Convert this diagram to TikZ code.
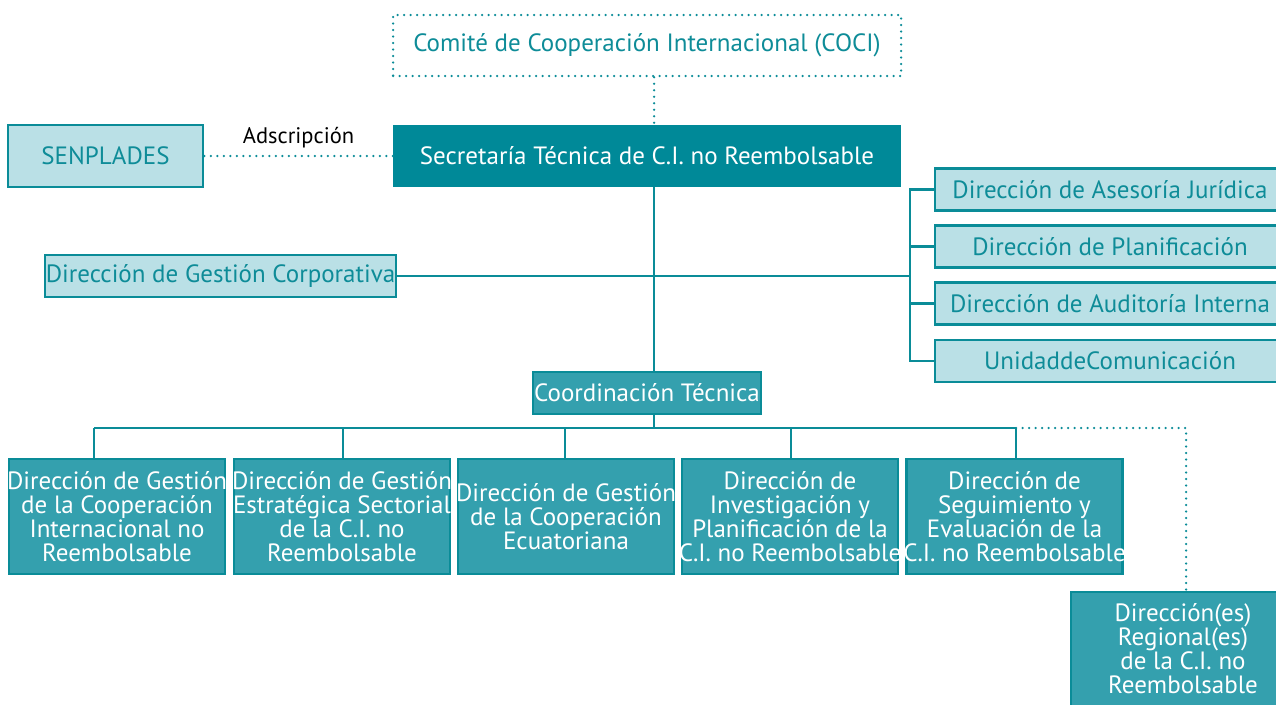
\documentclass[tikz,border=0pt]{standalone}
\usepackage{fontspec}
\setmainfont{PT Sans}
\definecolor{darkteal}{RGB}{0,137,152}
\definecolor{lightfill}{RGB}{186,224,230}
\definecolor{midfill}{RGB}{52,160,174}
\definecolor{bordert}{RGB}{10,140,152}
\definecolor{tealtext}{RGB}{14,140,152}
\begin{document}
\begin{tikzpicture}[x=1pt,y=-1pt,
  basefont/.style={font=\fontsize{25}{24}\selectfont, inner sep=0pt, align=center},
  lightbox/.style={basefont, fill=lightfill, draw=bordert, line width=2.5pt, text=tealtext},
  midbox/.style={basefont, fill=midfill, draw=bordert, line width=2.5pt, text=white},
  midtext/.style={basefont, text=white},
  darkbox/.style={basefont, fill=darkteal, draw=none, text=white},
  dotbox/.style={basefont, draw=bordert, line width=2.5pt, dash pattern=on 0pt off 6.5pt, line cap=round, text=tealtext},
  dotline/.style={draw=bordert, line width=2.5pt, dash pattern=on 0pt off 6.5pt, line cap=round},
  conn/.style={draw=bordert, line width=2.5pt}]
\clip (0,0) rectangle (1276,704);
\fill[white] (0,0) rectangle (1276,704);
\coordinate (mx) at (654,0);
% top
\node[dotbox, minimum width=508, minimum height=61] (coci) at (647,45.5) {Comité de Cooperación Internacional (COCI)};
\node[darkbox, minimum width=508, minimum height=62] (sec) at (647,156) {Secretaría Técnica de C.I. no Reembolsable};
\node[lightbox, minimum width=195, minimum height=62] (senp) at (105.5,156) {SENPLADES};
\draw[dotline] (coci.south -| mx) -- (sec.north -| mx);
\draw[dotline] (senp.east) -- node[midway, yshift=18pt, text=black, font=\fontsize{22.5}{24}\selectfont, inner sep=0pt] {Adscripción} (sec.west);
% middle
\node[lightbox, minimum width=351, minimum height=42] (gc) at (220.5,276) {Dirección de Gestión Corporativa};
\node[lightbox, minimum width=350, minimum height=42] (ase) at (1110,189.5) {Dirección de Asesoría Jurídica};
\node[lightbox, minimum width=350, minimum height=42] (pla) at (1110,246.5) {Dirección de Planificación};
\node[lightbox, minimum width=350, minimum height=42] (aud) at (1110,303.5) {Dirección de Auditoría Interna};
\node[lightbox, minimum width=350, minimum height=42] (uni) at (1110,361) {UnidaddeComunicación};
\coordinate (bx) at (910,276);
\draw[conn] (gc.east) -- (bx);
\draw[conn] (ase.west) -| (bx) |- (uni.west);
\draw[conn] (pla.west) -- (pla.west -| bx);
\draw[conn] (aud.west) -- (aud.west -| bx);
% coordination
\node[midbox, minimum width=228, minimum height=42] (coord) at (647,393) {Coordinación Técnica};
\draw[conn] (sec.south -| mx) -- (coord.north -| mx);
% bottom row
\node[midbox, minimum width=216, minimum height=115, label={[midtext]center:{Dirección de Gestión\\de la Cooperación\\Internacional no\\Reembolsable}}] (b1) at (117,516.5) {};
\node[midbox, minimum width=216, minimum height=115, label={[midtext]center:{Dirección de Gestión\\Estratégica Sectorial\\de la C.I. no\\Reembolsable}}] (b2) at (342,516.5) {};
\node[midbox, minimum width=216, minimum height=115, label={[midtext]center:{Dirección de Gestión\\de la Cooperación\\Ecuatoriana}}] (b3) at (566,516.5) {};
\node[midbox, minimum width=216, minimum height=115, label={[midtext]center:{Dirección de\\Investigación y\\Planificación de la\\C.I. no Reembolsable}}] (b4) at (790,516.5) {};
\node[midbox, minimum width=216, minimum height=115, label={[midtext]center:{Dirección de\\Seguimiento y\\Evaluación de la\\C.I. no Reembolsable}}] (b5) at (1014.5,516.5) {};
\node[midbox, minimum width=218, minimum height=114, label={[midtext, xshift=3pt]center:{Dirección(es)\\Regional(es)\\de la C.I. no\\Reembolsable}}] (reg) at (1180,649) {};
\coordinate (hy) at (0,428);
\coordinate (t1) at (94,428);
\coordinate (t2) at (343,428);
\coordinate (t3) at (565,428);
\coordinate (t4) at (791,428);
\coordinate (t5) at (1016,428);
\coordinate (rc) at (1186,428);
\draw[conn] (coord.south -| mx) -- (hy -| mx);
\draw[conn] (t1) -- (t5);
\draw[conn] (t1) -- (b1.north -| t1);
\draw[conn] (t2) -- (b2.north -| t2);
\draw[conn] (t3) -- (b3.north -| t3);
\draw[conn] (t4) -- (b4.north -| t4);
\draw[conn] (t5) -- (b5.north -| t5);
\draw[dotline] (t5) -- (rc) -- (reg.north -| rc);
\end{tikzpicture}
\end{document}
